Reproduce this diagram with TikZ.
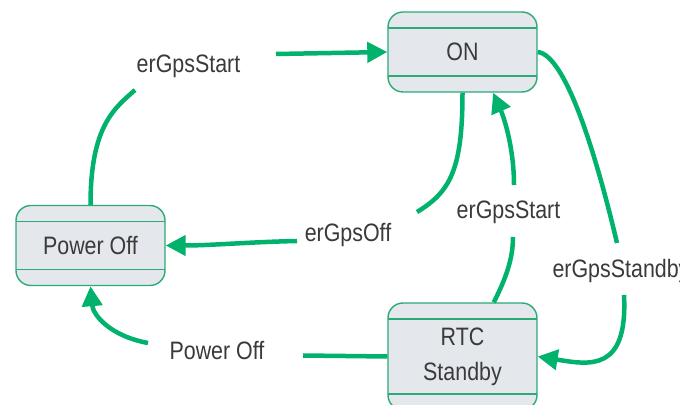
\documentclass[tikz,border=0pt]{standalone}
\usepackage{fontspec}
\setmainfont[FakeStretch=0.85]{Liberation Sans}
\usetikzlibrary{arrows.meta}
\definecolor{flowgreen}{HTML}{00B26B}
\definecolor{boxline}{HTML}{2BAA78}
\definecolor{boxfill}{HTML}{E4E8EC}
\definecolor{labeltext}{HTML}{3A3A3A}

\begin{document}
\begin{tikzpicture}[x=0.5pt, y=-0.5pt,
    font=\fontsize{12.6}{17.5}\selectfont, text=labeltext,
    statebox/.style={rectangle, rounded corners=7.5pt, draw=boxline, line width=0.7pt,
      fill=boxfill, minimum width=74.5pt, minimum height=40pt,
      path picture={
        \draw[boxline, line width=0.6pt]
          ([yshift=-8pt]path picture bounding box.north west) -- ([yshift=-8pt]path picture bounding box.north east)
          ([yshift=8pt]path picture bounding box.south west) -- ([yshift=8pt]path picture bounding box.south east);}},
    flow/.style={line width=2.25pt, draw=flowgreen},
    flowarrow/.style={flow, -{Triangle[length=10pt, width=10pt]}},
    lbl/.style={inner sep=0pt}]
  \useasboundingbox (0,0) rectangle (680,405);

  % states
  \node[statebox] (on) at (462.5, 52) {ON};
  \node[statebox] (poff) at (90.5, 245.5) {Power Off};
  \node[statebox, minimum height=53.5pt, align=center] (rtc) at (462.5, 356.5) {RTC\\Standby};

  % event labels
  \node[lbl] (lstart) at (188.5, 66.5) {erGpsStart};
  \node[lbl] (loff) at (348, 235.5) {erGpsOff};
  \node[lbl] (lwake) at (508.5, 212) {erGpsStart};
  \node[lbl] (lstandby) at (621, 270.5) {erGpsStandby};
  \node[lbl] (lpower) at (217, 351) {Power Off};

  % ends of the broken lines round the labels
  \coordinate (s1a) at (135, 90);
  \coordinate (s1b) at (276, 54);
  \coordinate (s2a) at (417, 212);
  \coordinate (s2b) at (297, 241);
  \coordinate (s3a) at (513, 237);
  \coordinate (s3b) at (514, 185);
  \coordinate (s4a) at (617, 243);
  \coordinate (s4b) at (624, 295);
  \coordinate (s5a) at (303, 355.5);
  \coordinate (s5b) at (148, 343);

  % Power Off -> ON
  \draw[flow] (poff.north) .. controls (90.5, 125) and (115, 108) .. (s1a);
  \draw[flowarrow] (s1b) -- (on.west);

  % ON -> Power Off
  \draw[flow] (on.south) .. controls (462.5, 170) and (450, 192) .. (s2a);
  \draw[flowarrow] (s2b) .. controls (250, 242) and (210, 245.5) .. (poff.east);

  % RTC Standby -> ON
  \draw[flow] (rtc.60) .. controls (505, 280) and (513, 260) .. (s3a);
  \draw[flowarrow] (s3b) .. controls (514, 150) and (505, 120) .. (on.-53);

  % ON -> RTC Standby
  \draw[flow] (on.east) .. controls (565, 55) and (595, 150) .. (s4a);
  \draw[flowarrow] (s4b) .. controls (628, 372) and (590, 365) .. (rtc.east);

  % RTC Standby -> Power Off
  \draw[flow] (rtc.west) -- (s5a);
  \draw[flowarrow] (s5b) .. controls (110, 336) and (93, 315) .. (poff.south);
\end{tikzpicture}
\end{document}
